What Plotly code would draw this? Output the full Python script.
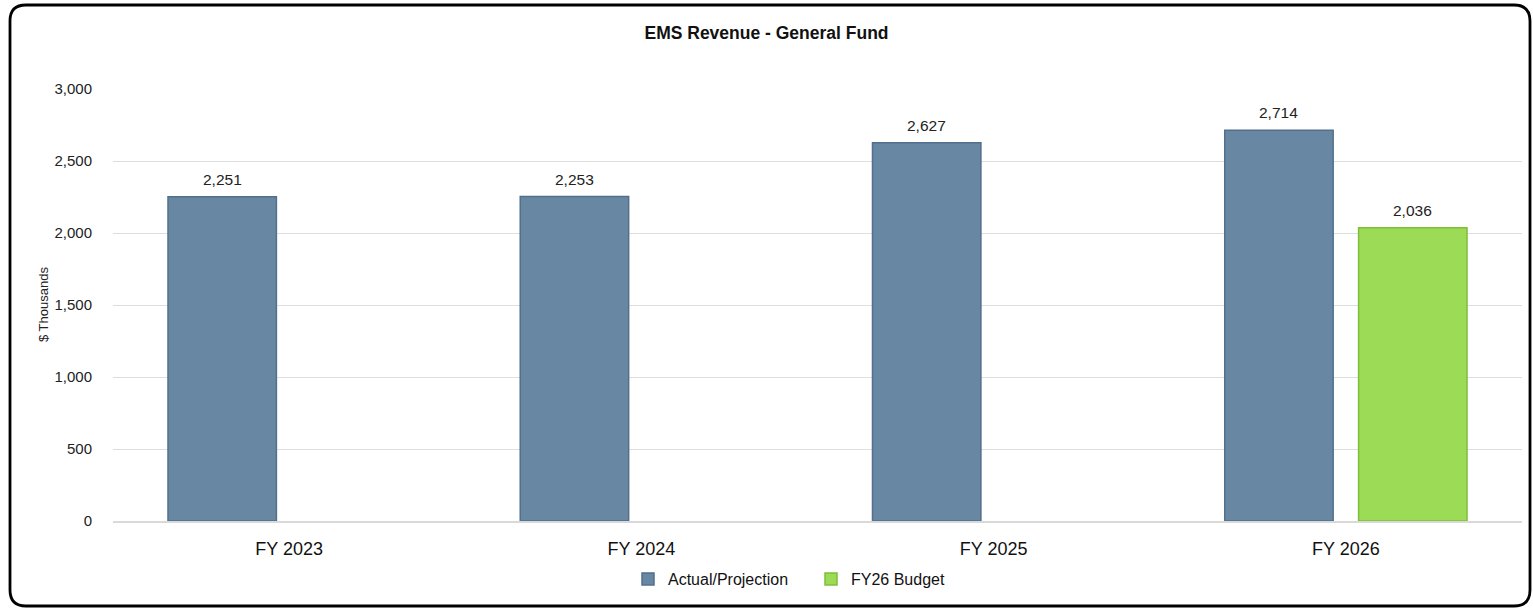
import plotly.graph_objects as go

# Chart data ($ thousands)
years = ["FY 2023", "FY 2024", "FY 2025", "FY 2026"]
actual_projection = [2251, 2253, 2627, 2714]
fy26_budget = [None, None, None, 2036]
y_ticks = [0, 500, 1000, 1500, 2000, 2500, 3000]

FONT = "Liberation Sans, Arial, sans-serif"
W, H = 1533, 610
ML, MR, MT, MB = 113, 11, 89, 89
PW, PH = W - ML - MR, H - MT - MB

fig = go.Figure()

fig.add_trace(go.Bar(
    name="Actual/Projection",
    x=years,
    y=actual_projection,
    marker=dict(color="#6887A2", line=dict(color="#52708B", width=1.5)),
    offsetgroup="a",
))

fig.add_trace(go.Bar(
    name="FY26 Budget",
    x=years,
    y=fy26_budget,
    marker=dict(color="#9CDB55", line=dict(color="#7FBE3A", width=1.5)),
    offsetgroup="b",
))

# Value labels above each bar
slot_offset = {"a": -0.19, "b": 0.19}
for vals, grp in ((actual_projection, "a"), (fy26_budget, "b")):
    for i, v in enumerate(vals):
        if v is None:
            continue
        fig.add_annotation(
            x=i + slot_offset[grp], y=v, xref="x", yref="y",
            text=f"{v:,}", showarrow=False, yanchor="bottom", yshift=7,
            font=dict(size=15.5, color="#222222", family=FONT),
        )

fig.update_layout(
    width=W,
    height=H,
    margin=dict(l=ML, r=MR, t=MT, b=MB, autoexpand=False),
    paper_bgcolor="white",
    plot_bgcolor="white",
    barmode="group",
    bargap=0.24,
    bargroupgap=0.19,
    font=dict(family=FONT, color="#222222"),
    title=dict(
        text="<b>EMS Revenue - General Fund</b>",
        x=0.5, xref="container", xanchor="center",
        y=1 - 33 / H, yref="container", yanchor="middle",
        font=dict(size=17.5, color="#111111", family=FONT),
    ),
    xaxis=dict(
        showgrid=False, automargin=False,
        showline=True, linecolor="#D9D9D9", linewidth=1.5,
        ticks="", tickfont=dict(size=18, color="#111111", family=FONT),
        ticklabelstandoff=11,
    ),
    yaxis=dict(
        range=[0, 3000], automargin=False,
        tickvals=y_ticks,
        tickformat=",",
        showgrid=True, gridcolor="#DEDEDE", gridwidth=1,
        zeroline=False, showline=False,
        ticks="", tickfont=dict(size=15, color="#222222", family=FONT),
        ticklabelstandoff=20,
    ),
    legend=dict(
        orientation="h",
        xref="container", x=628 / W, xanchor="left",
        yref="container", y=1 - 579 / H, yanchor="middle",
        font=dict(size=16, color="#111111", family=FONT),
        bgcolor="rgba(0,0,0,0)",
        itemwidth=30,
        entrywidth=138,
    ),
    showlegend=True,
)

# Y-axis title
fig.add_annotation(
    text="$ Thousands",
    xref="paper", yref="paper",
    x=(43 - ML) / PW, y=(H - MB - 305) / PH,
    xanchor="center", yanchor="middle",
    textangle=-90, showarrow=False,
    font=dict(size=13, color="#222222", family=FONT),
)


# Rounded chart frame, given in pixel units and converted to paper coordinates
def px(x):
    return (x - ML) / PW


def py(y):
    return (H - MB - y) / PH


L, R, T, B, r = 10, 1530, 5, 606, 16
path = (
    f"M {px(L + r)},{py(T)} L {px(R - r)},{py(T)} Q {px(R)},{py(T)} {px(R)},{py(T + r)} "
    f"L {px(R)},{py(B - r)} Q {px(R)},{py(B)} {px(R - r)},{py(B)} "
    f"L {px(L + r)},{py(B)} Q {px(L)},{py(B)} {px(L)},{py(B - r)} "
    f"L {px(L)},{py(T + r)} Q {px(L)},{py(T)} {px(L + r)},{py(T)} Z"
)
fig.add_shape(type="path", path=path, xref="paper", yref="paper",
              line=dict(color="black", width=2.8), layer="above")

fig.write_html("out.html")
